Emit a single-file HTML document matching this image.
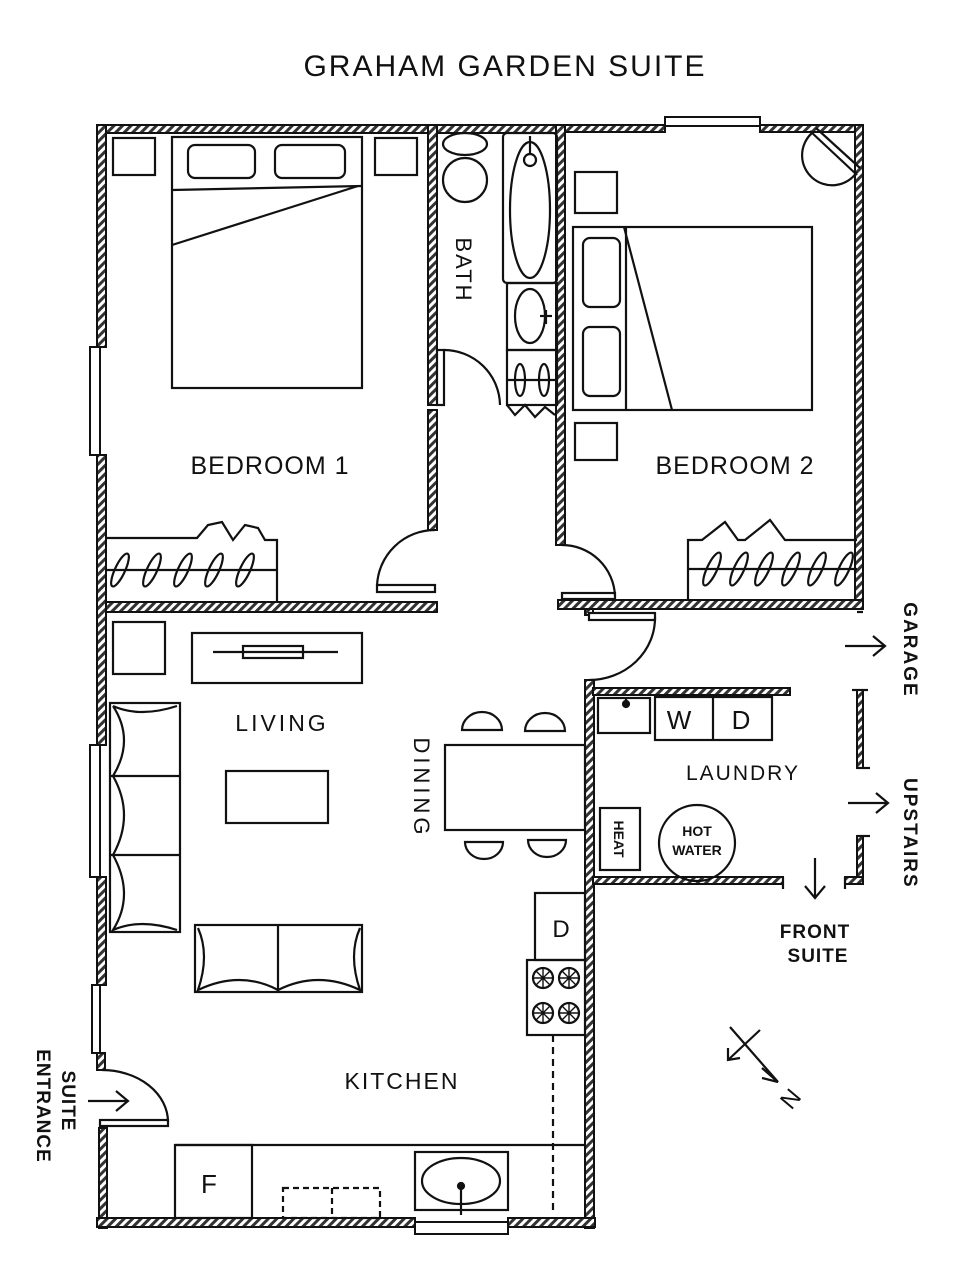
<!DOCTYPE html>
<html><head><meta charset="utf-8"><style>
html,body{margin:0;padding:0;background:#fff;}
svg{display:block}
text{font-family:"Liberation Sans",sans-serif;fill:#111;}
</style></head><body>
<svg width="970" height="1280" viewBox="0 0 970 1280" xmlns="http://www.w3.org/2000/svg">
<defs>
<pattern id="h" width="6" height="6" patternUnits="userSpaceOnUse" patternTransform="rotate(45)">
<rect width="6" height="6" fill="#fff"/><rect width="3" height="6" fill="#333"/>
</pattern>
</defs>
<g stroke="#111" stroke-width="2" fill="url(#h)">
<rect x="97" y="125" width="340" height="8"/>
<rect x="433" y="125" width="132" height="8"/>
<rect x="558" y="125" width="107" height="7"/>
<rect x="665" y="117" width="95" height="9" fill="#fff"/>
<rect x="760" y="125" width="103" height="7"/>
<rect x="855" y="125" width="8" height="478"/>
<rect x="428" y="125" width="9" height="280"/>
<rect x="428" y="410" width="9" height="120"/>
<rect x="556" y="125" width="9" height="420"/>
<rect x="97" y="602" width="340" height="10"/>
<rect x="558" y="600" width="305" height="9"/>
<rect x="585" y="680" width="9" height="548"/>
<rect x="585" y="609" width="8" height="6"/>
<rect x="593" y="688" width="197" height="7"/>
<rect x="857" y="690" width="6" height="78"/>
<rect x="857" y="836" width="6" height="48"/>
<rect x="593" y="877" width="190" height="7"/>
<rect x="845" y="877" width="18" height="7"/>
<rect x="97" y="125" width="9" height="222"/>
<rect x="90" y="347" width="10" height="108" fill="#fff"/>
<rect x="97" y="455" width="9" height="290"/>
<rect x="90" y="745" width="10" height="132" fill="#fff"/>
<rect x="97" y="877" width="9" height="108"/>
<rect x="92" y="985" width="8" height="68" fill="#fff"/>
<rect x="97" y="1053" width="8" height="17"/>
<rect x="99" y="1128" width="8" height="100"/>
<rect x="97" y="1218" width="318" height="9"/>
<rect x="415" y="1222" width="93" height="12" fill="#fff"/>
<rect x="508" y="1218" width="87" height="9"/>
</g>
<g stroke="#111" stroke-width="2.2" fill="none">
<rect x="437" y="350" width="7" height="55" fill="#fff"/>
<rect x="377" y="585" width="58" height="7" fill="#fff"/>
<rect x="562" y="593" width="53" height="6" fill="#fff"/>
<rect x="589" y="613" width="66" height="7" fill="#fff"/>
<rect x="100" y="1120" width="68" height="6" fill="#fff"/>
<path d="M444,350 A56,56 0 0 1 500,405"/>
<path d="M377,586 A58,58 0 0 1 435,530"/>
<path d="M562,545 A53,53 0 0 1 615,596"/>
<path d="M655,617 A66,62 0 0 1 589,680"/>
<path d="M102,1070 A66,52 0 0 1 168,1122"/>
<line x1="857" y1="612" x2="863" y2="612"/>
<line x1="852" y1="690" x2="868" y2="690"/>
<line x1="857" y1="768" x2="870" y2="768"/>
<line x1="857" y1="836" x2="870" y2="836"/>
<line x1="783" y1="877" x2="783" y2="889"/>
<line x1="845" y1="877" x2="845" y2="889"/>
<path d="M845,646 H885 M873,636 L885,646 L873,656"/>
<path d="M848,803 H888 M876,793 L888,803 L876,813"/>
<path d="M815,858 V898 M805,886 L815,898 L825,886"/>
<path d="M88,1101 H128 M116,1091 L128,1101 L116,1111"/>
<path d="M730,1027 L778,1082 M762,1068 L778,1082 L762,1078"/>
<path d="M760,1030 L728,1060 M728,1048 L728,1060 L740,1058"/>

<ellipse cx="465" cy="144" rx="22" ry="11"/>
<circle cx="465" cy="180" r="22"/>
<rect x="503" y="133" width="54" height="150" rx="4"/>
<ellipse cx="530" cy="210" rx="20" ry="68"/>
<circle cx="530" cy="160" r="6"/><line x1="530" y1="154" x2="530" y2="136"/>
<rect x="507" y="283" width="50" height="67"/>
<ellipse cx="530" cy="316" rx="15" ry="27"/>
<line x1="540" y1="316" x2="552" y2="316"/><line x1="546" y1="310" x2="546" y2="324"/>
<rect x="507" y="350" width="50" height="55"/>
<line x1="507" y1="380" x2="557" y2="380"/>
<ellipse cx="520" cy="380" rx="5" ry="16"/><ellipse cx="544" cy="380" rx="5" ry="16"/>
<path d="M507,405 L515,415 L525,405 L535,417 L545,407 L555,415"/>

<rect x="113" y="138" width="42" height="37"/>
<rect x="375" y="138" width="42" height="37"/>
<rect x="172" y="137" width="190" height="251"/>
<rect x="188" y="145" width="67" height="33" rx="7"/>
<rect x="275" y="145" width="70" height="33" rx="7"/>
<line x1="172" y1="190" x2="362" y2="186"/>
<line x1="172" y1="245" x2="358" y2="186"/>
<path d="M107,538 H197 L208,525 L222,522 L233,540 L245,525 L258,528 L265,540 H277 V602"/>
<line x1="107" y1="570" x2="277" y2="570"/>
<g transform="translate(0,570)">
<ellipse cx="120" cy="0" rx="5" ry="18" transform="translate(120,0) rotate(25) translate(-120,0)"/>
<ellipse cx="152" cy="0" rx="5" ry="18" transform="translate(152,0) rotate(25) translate(-152,0)"/>
<ellipse cx="183" cy="0" rx="5" ry="18" transform="translate(183,0) rotate(25) translate(-183,0)"/>
<ellipse cx="214" cy="0" rx="5" ry="18" transform="translate(214,0) rotate(25) translate(-214,0)"/>
<ellipse cx="245" cy="0" rx="5" ry="18" transform="translate(245,0) rotate(25) translate(-245,0)"/>
</g>

<rect x="575" y="172" width="42" height="41"/>
<rect x="575" y="423" width="42" height="37"/>
<rect x="573" y="227" width="239" height="183"/>
<line x1="626" y1="227" x2="626" y2="410"/>
<rect x="583" y="238" width="37" height="69" rx="7"/>
<rect x="583" y="327" width="37" height="69" rx="7"/>
<line x1="624" y1="227" x2="672" y2="410"/>
<path d="M812,133 A30,30 0 1 0 857,172"/>
<line x1="810" y1="131" x2="857" y2="175"/><line x1="816" y1="128" x2="860" y2="168"/>
<path d="M688,600 V540 H702 L725,522 L738,540 H745 L770,520 L785,540 H857"/>
<line x1="688" y1="569" x2="857" y2="569"/>
<g transform="translate(0,569)">
<ellipse cx="712" cy="0" rx="5" ry="18" transform="translate(712,0) rotate(25) translate(-712,0)"/>
<ellipse cx="739" cy="0" rx="5" ry="18" transform="translate(739,0) rotate(25) translate(-739,0)"/>
<ellipse cx="764" cy="0" rx="5" ry="18" transform="translate(764,0) rotate(25) translate(-764,0)"/>
<ellipse cx="791" cy="0" rx="5" ry="18" transform="translate(791,0) rotate(25) translate(-791,0)"/>
<ellipse cx="817" cy="0" rx="5" ry="18" transform="translate(817,0) rotate(25) translate(-817,0)"/>
<ellipse cx="844" cy="0" rx="5" ry="18" transform="translate(844,0) rotate(25) translate(-844,0)"/>
</g>

<rect x="113" y="622" width="52" height="52"/>
<rect x="192" y="633" width="170" height="50"/>
<line x1="213" y1="652" x2="338" y2="652"/>
<rect x="243" y="646" width="60" height="12"/>
<rect x="110" y="703" width="70" height="229"/>
<line x1="110" y1="776" x2="180" y2="776"/><line x1="110" y1="855" x2="180" y2="855"/>
<path d="M113,706 Q140,718 177,706 M113,706 Q135,740 113,776 Q135,815 113,855 Q135,895 113,930 Q140,918 177,930"/>
<rect x="226" y="771" width="102" height="52"/>
<rect x="195" y="925" width="167" height="67"/>
<line x1="278" y1="925" x2="278" y2="992"/>
<path d="M198,928 Q210,955 198,990 Q240,970 278,990 Q318,970 360,990 Q348,955 360,928"/>

<rect x="445" y="745" width="140" height="85"/>
<path d="M462,730 A20,18 0 0 1 502,730 Z"/>
<path d="M525,731 A20,18 0 0 1 565,731 Z"/>
<path d="M465,842 A19,17 0 0 0 503,842 Z"/>
<path d="M528,840 A19,17 0 0 0 566,840 Z"/>

<rect x="535" y="893" width="50" height="67"/>
<rect x="527" y="960" width="58" height="75"/>
<g>
<circle cx="543" cy="978" r="10"/><circle cx="569" cy="978" r="10"/>
<circle cx="543" cy="1013" r="10"/><circle cx="569" cy="1013" r="10"/>
<path d="M533,978 H553 M543,968 V988 M536,971 L550,985 M550,971 L536,985 M559,978 H579 M569,968 V988 M562,971 L576,985 M576,971 L562,985 M533,1013 H553 M543,1003 V1023 M536,1006 L550,1020 M550,1006 L536,1020 M559,1013 H579 M569,1003 V1023 M562,1006 L576,1020 M576,1006 L562,1020" stroke-width="1.4"/>
</g>
<line x1="553" y1="1035" x2="553" y2="1215" stroke-dasharray="7 5"/>
<line x1="175" y1="1145" x2="585" y2="1145"/>
<rect x="175" y="1145" width="77" height="73"/>
<rect x="283" y="1188" width="97" height="30" stroke-dasharray="6 4"/>
<line x1="332" y1="1188" x2="332" y2="1218" stroke-dasharray="6 4"/>
<rect x="415" y="1152" width="93" height="58"/>
<ellipse cx="461" cy="1181" rx="39" ry="23"/>
<circle cx="461" cy="1186" r="3" fill="#111"/><line x1="461" y1="1186" x2="461" y2="1215"/>

<rect x="598" y="698" width="52" height="35"/>
<circle cx="626" cy="704" r="3" fill="#111"/><line x1="626" y1="698" x2="626" y2="704"/>
<rect x="655" y="697" width="117" height="43"/>
<line x1="713" y1="697" x2="713" y2="740"/>
<rect x="600" y="808" width="40" height="62"/>
<circle cx="697" cy="843" r="38"/>
</g>

<g>
<text x="505" y="76" font-size="30" text-anchor="middle" letter-spacing="2">GRAHAM GARDEN SUITE</text>
<text x="270" y="474" font-size="25" text-anchor="middle" letter-spacing="1">BEDROOM 1</text>
<text x="735" y="474" font-size="25" text-anchor="middle" letter-spacing="1">BEDROOM 2</text>
<text transform="translate(456,270) rotate(90)" font-size="22" text-anchor="middle" letter-spacing="2">BATH</text>
<text x="282" y="731" font-size="23" text-anchor="middle" letter-spacing="3">LIVING</text>
<text transform="translate(414,788) rotate(90)" font-size="22" text-anchor="middle" letter-spacing="4">DINING</text>
<text x="743" y="780" font-size="21" text-anchor="middle" letter-spacing="2">LAUNDRY</text>
<text x="402" y="1089" font-size="23" text-anchor="middle" letter-spacing="2">KITCHEN</text>
<text x="679" y="729" font-size="26" text-anchor="middle">W</text>
<text x="741" y="729" font-size="26" text-anchor="middle">D</text>
<text x="561" y="937" font-size="24" text-anchor="middle">D</text>
<text x="209" y="1193" font-size="26" text-anchor="middle">F</text>
<text transform="translate(614,839) rotate(90)" font-size="14" text-anchor="middle" font-weight="bold">HEAT</text>
<text x="697" y="836" font-size="14" text-anchor="middle" font-weight="bold">HOT</text>
<text x="697" y="855" font-size="14" text-anchor="middle" font-weight="bold">WATER</text>
<text transform="translate(904,650) rotate(90)" font-size="19" text-anchor="middle" letter-spacing="2" font-weight="bold">GARAGE</text>
<text transform="translate(904,778) rotate(90)" font-size="19" letter-spacing="2" font-weight="bold">UPSTAIRS</text>
<text x="815" y="938" font-size="19" text-anchor="middle" letter-spacing="1" font-weight="bold">FRONT</text>
<text x="818" y="962" font-size="19" text-anchor="middle" letter-spacing="1" font-weight="bold">SUITE</text>
<text transform="translate(62,1101) rotate(90)" font-size="19" text-anchor="middle" letter-spacing="1" font-weight="bold">SUITE</text>
<text transform="translate(37,1106) rotate(90)" font-size="19" text-anchor="middle" letter-spacing="1" font-weight="bold">ENTRANCE</text>
<text transform="translate(792,1100) rotate(-50)" font-size="24" text-anchor="middle" dominant-baseline="middle">N</text>
</g>
</svg>
</body></html>
